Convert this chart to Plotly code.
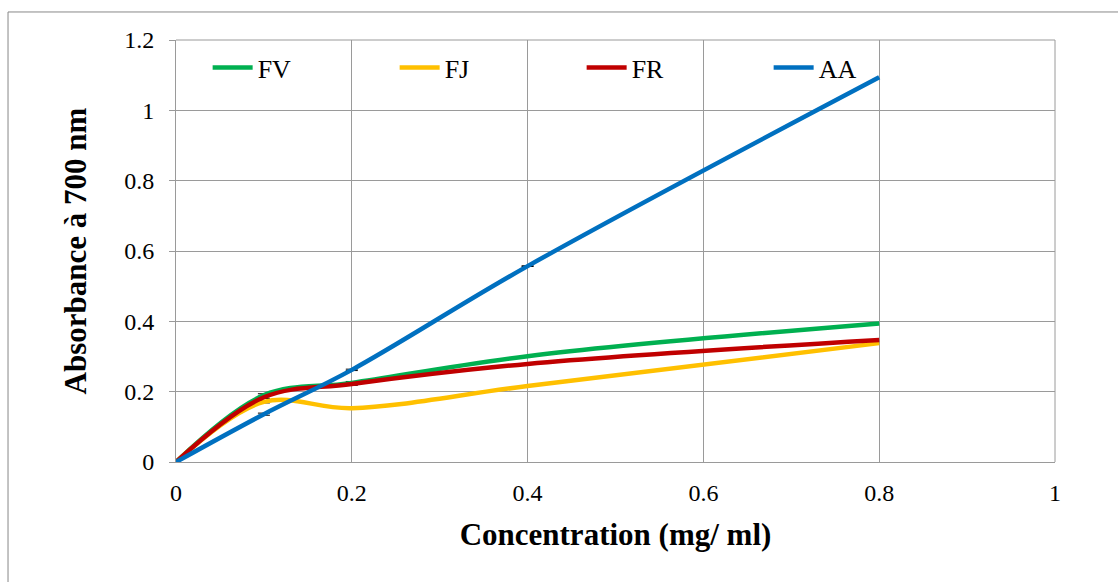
import plotly.graph_objects as go

conc = [0, 0.1, 0.2, 0.4, 0.8]
fv = [0, 0.190, 0.225, 0.301, 0.394]
fj = [0, 0.171, 0.153, 0.216, 0.338]
fr = [0, 0.184, 0.222, 0.279, 0.347]
aa = [0, 0.136, 0.262, 0.557, 1.094]

# small standard deviations at the intermediate concentrations (0.1, 0.2, 0.4)
fv_err = [0.004, 0.004, 0.001]
fj_err = [0.003, 0.003, 0.001]
fr_err = [0.003, 0.004, 0.001]
aa_err = [0.003, 0.002, 0.001]

series = [
    ("FV", fv, fv_err, "#00B050"),
    ("FJ", fj, fj_err, "#FFC000"),
    ("FR", fr, fr_err, "#C00000"),
    ("AA", aa, aa_err, "#0070C0"),
]

fig = go.Figure()
for name, ys, err, col in series:
    fig.add_trace(go.Scatter(
        x=conc[1:4], y=ys[1:4], mode="markers", showlegend=False, hoverinfo="skip",
        marker=dict(size=1, opacity=0),
        error_y=dict(type="data", array=err, visible=True, color="black",
                     thickness=1, width=6),
    ))
for name, ys, err, col in series:
    fig.add_trace(go.Scatter(
        x=conc, y=ys, name=name, mode="lines",
        line=dict(color=col, width=4.5, shape="spline", smoothing=1.0),
    ))

font = "Liberation Serif, Times New Roman, serif"
grid = "#9a9a9a"

fig.update_layout(
    width=1118, height=582,
    margin=dict(l=176, r=63, t=40, b=120),
    paper_bgcolor="white", plot_bgcolor="white",
    font=dict(family=font, size=24, color="black"),
    showlegend=True,
    legend=dict(orientation="h", x=0.036, y=0.99, xanchor="left", yanchor="top",
                bgcolor="rgba(0,0,0,0)", font=dict(size=26, family=font),
                entrywidth=132, entrywidthmode="pixels", itemwidth=40,
                traceorder="normal"),
    xaxis=dict(range=[0, 1], dtick=0.2, showgrid=True, gridcolor=grid, gridwidth=1,
               showline=True, linecolor=grid, linewidth=1, mirror=False,
               ticks="", zeroline=False, ticklabelstandoff=9,
               title=dict(text="<b>Concentration (mg/ ml)</b>", font=dict(size=31, family=font),
                          standoff=18),
               tickfont=dict(size=24, family=font)),
    yaxis=dict(range=[0, 1.2], dtick=0.2, showgrid=True, gridcolor=grid, gridwidth=1,
               showline=True, linecolor=grid, linewidth=1,
               ticks="outside", ticklen=6, tickcolor=grid, zeroline=False,
               ticklabelstandoff=10,
               title=dict(text="<b>Absorbance à 700 nm</b>", font=dict(size=31, family=font),
                          standoff=28),
               tickfont=dict(size=24, family=font)),
    shapes=[
        dict(type="rect", xref="paper", yref="paper", x0=-0.1911, y0=-0.40, x1=1.20, y1=1.0664,
             line=dict(color="#888888", width=1), fillcolor="rgba(0,0,0,0)", layer="below"),
        dict(type="line", xref="paper", yref="paper", x0=0, x1=1, y0=1, y1=1,
             line=dict(color=grid, width=1)),
        dict(type="line", xref="paper", yref="paper", x0=1, x1=1, y0=0, y1=1,
             line=dict(color=grid, width=1)),
    ],
)

fig.write_html("out.html")
